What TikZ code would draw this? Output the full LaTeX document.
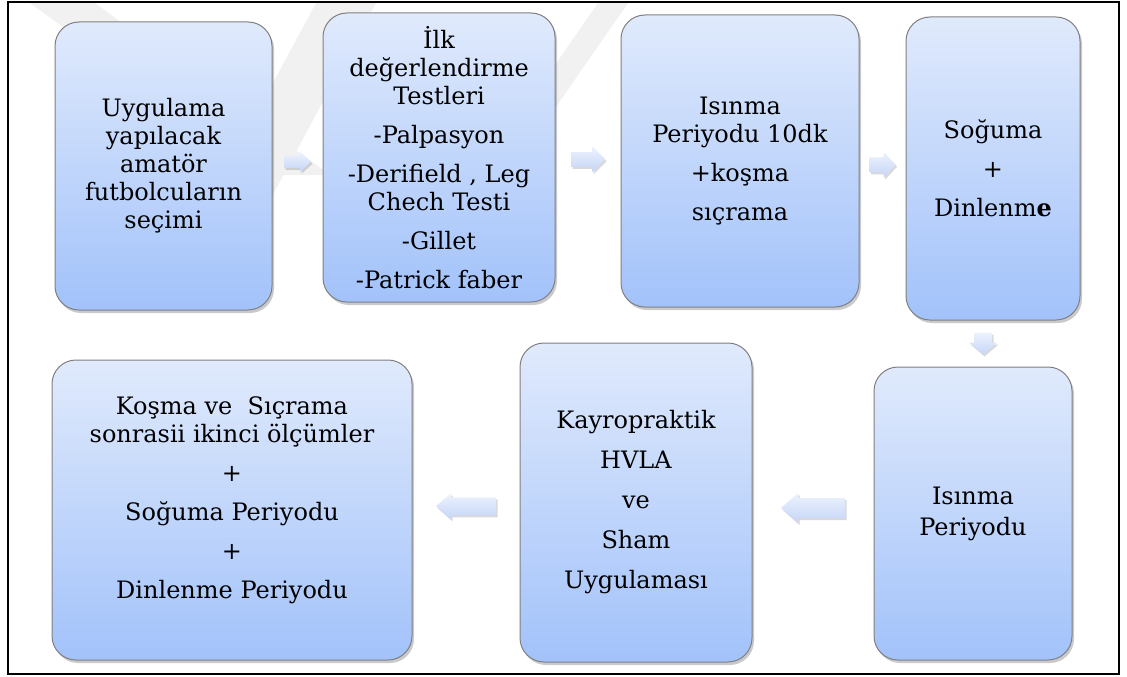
\documentclass[tikz,border=0pt]{standalone}
\usepackage{fontspec}
\setmainfont{DejaVu Serif}
\usetikzlibrary{shadows,calc}
\definecolor{boxtop}{RGB}{224,234,252}
\definecolor{boxbot}{RGB}{162,194,250}
\definecolor{boxline}{RGB}{128,128,128}
\definecolor{arrtop}{RGB}{238,243,254}
\definecolor{arrbot}{RGB}{196,213,247}
\definecolor{wmark}{RGB}{241,241,241}
\newcommand{\blockarrow}[7]{% name, at, angle, length, width, shaft, headlen
  \coordinate (#1) at #2;
  \path[flowarrow, shift={(#1)}, rotate=#3]
    (-#4/2,-#6/2) -- (#4/2-#7,-#6/2) -- (#4/2-#7,-#5/2) -- (#4/2,0)
    -- (#4/2-#7,#5/2) -- (#4/2-#7,#6/2) -- (-#4/2,#6/2) -- cycle;}
\begin{document}
\begin{tikzpicture}[x=1pt,y=-1pt,
  stepbox/.style={draw=boxline, line width=1pt, rounded corners=24pt,
    top color=boxtop, bottom color=boxbot, align=center, inner sep=0pt,
    font=\fontsize{24}{28}\selectfont,
    drop shadow={shadow xshift=2pt, shadow yshift=-3pt, opacity=0.35, fill=black!60}},
  flowarrow/.style={top color=arrtop, bottom color=arrbot, draw=none,
    drop shadow={shadow xshift=1.5pt, shadow yshift=-2pt, opacity=0.25, fill=black!60}},
]
\useasboundingbox (0,0) rectangle (1127,677);
% faint watermark
\fill[wmark] (30,3) -- (95,3) -- (330,175) -- (265,175) -- cycle;
\fill[wmark] (316,3) -- (376,3) -- (270,200) -- (210,200) -- cycle;
\fill[wmark] (598,3) -- (628,3) -- (540,130) -- (510,130) -- cycle;

\node[stepbox, minimum width=217pt, minimum height=288pt] (b1) at (163.5,166)
  {Uygulama\\yapılacak\\amatör\\futbolcuların\\seçimi};
\node[stepbox, minimum width=232pt, minimum height=289pt] (b2) at (439,157.5)
  {İlk\\değerlendirme\\Testleri\\[11pt]-Palpasyon\\[11pt]-Derifield , Leg\\Chech Testi\\[11pt]-Gillet\\[11pt]-Patrick faber};
\node[stepbox, minimum width=238pt, minimum height=292pt] (b3) at (740,161)
  {Isınma\\Periyodu 10dk\\[11pt]+koşma\\[11pt]sıçrama};
\node[stepbox, minimum width=174pt, minimum height=303pt] (b4) at (993,168.5)
  {Soğuma\\[11pt]+\\[11pt]Dinlenm\textbf{e}};
\node[stepbox, minimum width=198pt, minimum height=293pt] (b5) at (973,513.5)
  {Isınma\\[3pt]Periyodu};
\node[stepbox, minimum width=232pt, minimum height=319pt] (b6) at (636,502.5)
  {Kayropraktik\\[12pt]HVLA\\[12pt]ve\\[12pt]Sham\\[12pt]Uygulaması};
\node[stepbox, minimum width=360pt, minimum height=300pt] (b7) at (232,510)
  {Koşma ve\ \ Sıçrama\\sonrasii ikinci ölçümler\\[11pt]+\\[11pt]Soğuma Periyodu\\[11pt]+\\[11pt]Dinlenme Periyodu\\[-3pt]\mbox{}};

\blockarrow{a1}{($(b1.east)!0.5!(b2.west)$)}{0}{27}{20}{12}{11}
\blockarrow{a2}{($(b2.east)!0.5!(b3.west)$)}{0}{34}{26}{15}{13}
\blockarrow{a3}{($(b3.east)!0.5!(b4.west)$)}{0}{26}{26}{15}{12}
\blockarrow{a4}{($(b4.south)!0.5!(b5.north)$)}{-90}{22}{28}{18}{12}
\blockarrow{a5}{($(b5.west)!0.5!(b6.east)$)}{180}{64}{30}{20}{17}
\blockarrow{a6}{($(b6.west)!0.5!(b7.east)$)}{180}{60}{26}{18}{15}

\draw[line width=1.6pt] (8,2) rectangle (1119,674);
\end{tikzpicture}
\end{document}
